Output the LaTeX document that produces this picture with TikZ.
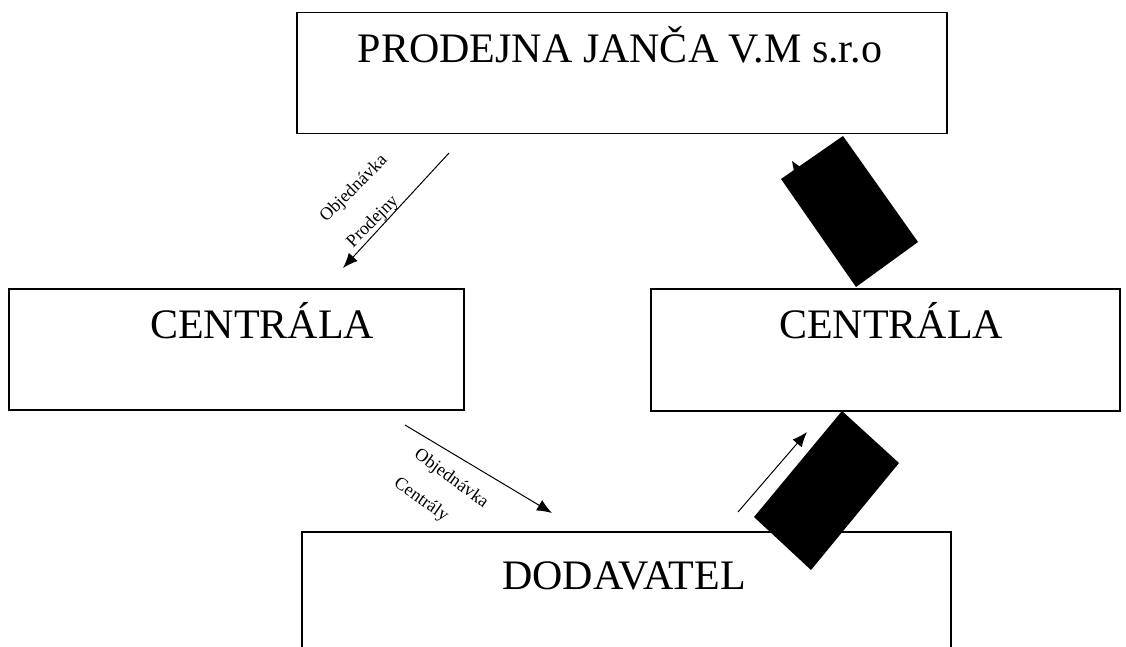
\documentclass[tikz,border=0pt]{standalone}
\usepackage{fontspec}
\setmainfont{Liberation Serif}
\usetikzlibrary{arrows.meta}
\tikzset{
  box/.style={draw, line width=1.5pt, inner sep=0pt, anchor=north west},
  big/.style={font=\fontsize{42}{50}\selectfont, inner sep=0pt, anchor=base},
  lbl/.style={font=\fontsize{18}{22}\selectfont, inner sep=0pt},
  flow/.style={line width=1pt, -{Latex[length=15pt,width=12pt]}},
  blob/.style={fill=black}
}
\begin{document}
\begin{tikzpicture}[x=1pt,y=-1pt]
\useasboundingbox (0,0) rectangle (1126,647);
\clip (0,0) rectangle (1126,647);
% boxes
\node[box, minimum width=650pt, minimum height=121pt] (top) at (296,12) {};
\node[box, minimum width=455pt, minimum height=121pt] (cl) at (8,288) {};
\node[box, minimum width=469pt, minimum height=122pt] (cr) at (650,288) {};
\node[box, minimum width=649pt, minimum height=140pt] (dod) at (301,531) {};
% texts
\node[big] (ttop) at (620,63) {PRODEJNA JANČA V.M s.r.o};
\node[big] (tcl) at (262,338) {CENTRÁLA};
\node[big] (tcr) at (891,338) {CENTRÁLA};
\node[big] (tdod) at (624,589) {DODAVATEL};
% arrow 1
\coordinate (a1s) at (449,153);
\coordinate (a1e) at (343,268);
\draw[flow] (a1s) -- (a1e);
\node[lbl, rotate=45] (l1a) at (354,189) {Objednávka};
\node[lbl, rotate=45] (l1b) at (373,222) {Prodejny};
% arrow 2
\coordinate (a2s) at (405,425);
\coordinate (a2e) at (552,513);
\draw[flow] (a2s) -- (a2e);
\node[lbl, rotate=-36] (l2a) at (451,479) {Objednávka};
\node[lbl, rotate=-35] (l2b) at (421,500) {Centrály};
% arrow 3
\coordinate (a3s) at (738,512);
\coordinate (a3e) at (807,432);
\draw[flow] (a3s) -- (a3e);
% hidden arrow tip under top black rectangle
\fill (792,161) -- (803,169) -- (795,176) -- cycle;
% black rectangles
\fill[blob] (843,136) -- (918,242) -- (856,287) -- (781,179) -- cycle;
\fill[blob] (842,411) -- (899,463) -- (811,570) -- (754,517) -- cycle;
\end{tikzpicture}
\end{document}
